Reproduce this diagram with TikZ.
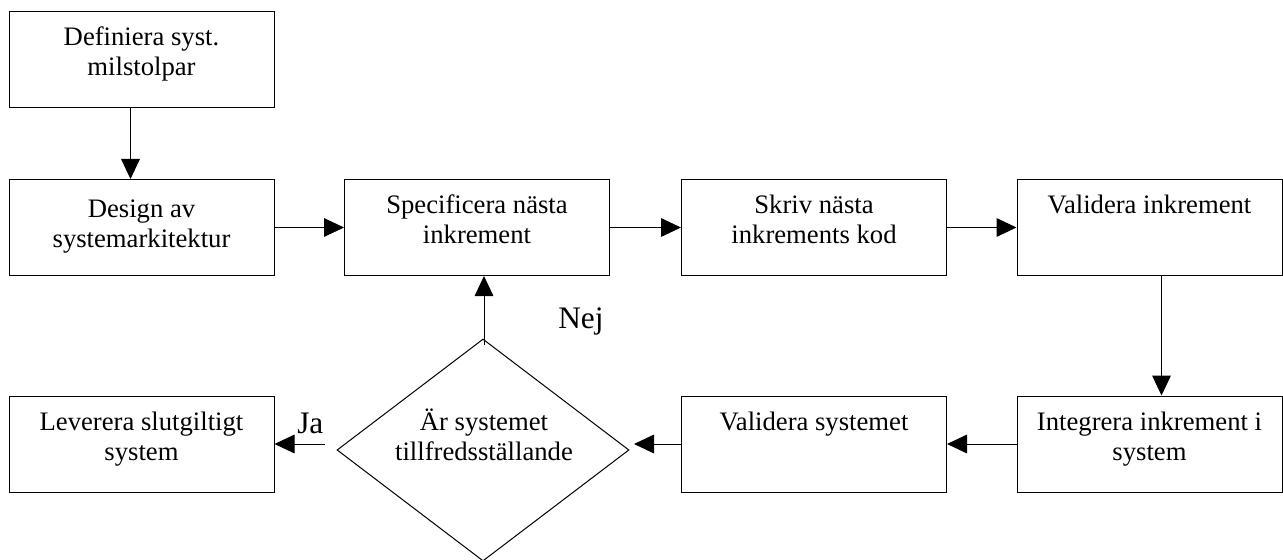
\documentclass[tikz,border=0pt]{standalone}
\usepackage{fontspec}
\setmainfont{Liberation Serif}
\usetikzlibrary{arrows.meta,shapes.geometric,calc}
% centred multi-line text whose baseline is that of its first line
\newcommand\boxlines[1]{\begin{tabular}[t]{@{}c@{}}#1\end{tabular}}
\begin{document}
\begin{tikzpicture}[x=0.75pt,y=-0.75pt,
  box/.style={draw, line width=0.75pt, minimum width=198.75pt, minimum height=72pt, inner sep=0pt},
  dec/.style={draw, diamond, line width=0.75pt, minimum width=219pt, minimum height=166.5pt, inner sep=0pt},
  txt/.style={anchor=base, inner sep=0pt, font=\fontsize{20}{22.5}\selectfont},
  branch/.style={anchor=base west, inner sep=0pt, font=\fontsize{23.5}{26}\selectfont},
  flow/.style={line width=0.75pt, -{Triangle[length=15pt,width=14pt]}}]
\useasboundingbox (0,0) rectangle (1283,560);

% process boxes
\node[box] (def)    at (141.5,59.5)  {};
\node[box] (des)    at (141.5,227.5) {};
\node[box] (spec)   at (477,227.5)   {};
\node[box] (skriv)  at (814,227.5)   {};
\node[box] (valinc) at (1149.5,227.5){};
\node[box] (integ)  at (1149.5,444)  {};
\node[box] (valsys) at (814,444)     {};
\node[box] (lev)    at (141.5,444)   {};
% decision
\node[dec] (dec) at (483,450) {};

% box texts
\node[txt] (def-t)    at ($(def.north)+(0,35)$)    {\boxlines{Definiera syst.\\milstolpar}};
\node[txt] (des-t)    at ($(des.north)+(0,39)$)    {\boxlines{Design av\\systemarkitektur}};
\node[txt] (spec-t)   at ($(spec.north)+(0,35)$)   {\boxlines{Specificera nästa\\inkrement}};
\node[txt] (skriv-t)  at ($(skriv.north)+(0,35)$)  {\boxlines{Skriv nästa\\inkrements kod}};
\node[txt] (valinc-t) at ($(valinc.north)+(0,35)$) {Validera inkrement};
\node[txt] (integ-t)  at ($(integ.north)+(0,35)$)  {\boxlines{Integrera inkrement i\\system}};
\node[txt] (valsys-t) at ($(valsys.north)+(0,35)$) {Validera systemet};
\node[txt] (lev-t)    at ($(lev.north)+(0,35)$)    {\boxlines{Leverera slutgiltigt\\system}};
\node[txt] (dec-t)    at (484,430)                 {\boxlines{Är systemet\\tillfredsställande}};

% branch labels
\node[branch] (nej) at (558,328) {Nej};
\node[branch] (ja)  at (297,433) {Ja};

% free ends near the decision
\coordinate (c-nej) at (484,345);
\coordinate (c-in)  at (634,444);
\coordinate (c-ja)  at (325,444);

% connectors
\draw[flow] ([xshift=-8.25pt]def.south) -- ([xshift=-8.25pt]des.north);
\draw[flow] (des.east) -- (spec.west);
\draw[flow] (spec.east) -- (skriv.west);
\draw[flow] (skriv.east) -- (valinc.west);
\draw[flow] ([xshift=9pt]valinc.south) -- ([xshift=9pt]integ.north);
\draw[flow] (integ.west) -- (valsys.east);
\draw[flow] (valsys.west) -- (c-in);
\draw[flow] (c-ja) -- (lev.east);
\draw[flow] (c-nej) -- (c-nej |- spec.south);
\end{tikzpicture}
\end{document}
